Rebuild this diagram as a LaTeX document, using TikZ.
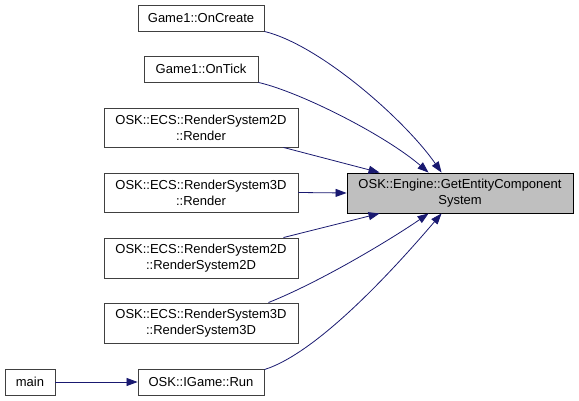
\documentclass[tikz,border=0pt]{standalone}
\usepackage{fontspec}
\setmainfont{Liberation Sans}
\usetikzlibrary{arrows.meta,calc}
\definecolor{edgeblue}{RGB}{25,25,112}
\definecolor{boxline}{RGB}{64,64,64}
\definecolor{hilite}{RGB}{191,191,191}
\begin{document}
\begin{tikzpicture}[x=1pt,y=-1pt,
    fn/.style={draw=boxline, line width=0.9pt, fill=white, inner sep=0pt, align=center,
        font=\fontsize{13}{16}\selectfont},
    call/.style={draw=edgeblue, line width=0.8pt, -{Triangle[length=11pt,width=8pt]}}]
    \useasboundingbox (0,0) rectangle (579,401);
    % Target
    \node[fn, draw=black, fill=hilite, minimum width=226pt, minimum height=40pt] (target) at (460,193)
        {OSK::Engine::GetEntityComponent\\System};
    % Callers
    \node[fn, minimum width=126pt, minimum height=26pt] (create) at (201,18) {Game1::OnCreate};
    \node[fn, minimum width=114pt, minimum height=26pt] (tick) at (201,69) {Game1::OnTick};
    \node[fn, minimum width=194pt, minimum height=39pt] (render2) at (201,127.5) {OSK::ECS::RenderSystem2D\\::Render};
    \node[fn, minimum width=194pt, minimum height=39pt] (render3) at (201,192.5) {OSK::ECS::RenderSystem3D\\::Render};
    \node[fn, minimum width=194pt, minimum height=40pt] (ctor2) at (201,258) {OSK::ECS::RenderSystem2D\\::RenderSystem2D};
    \node[fn, minimum width=194pt, minimum height=40pt] (ctor3) at (201,323) {OSK::ECS::RenderSystem3D\\::RenderSystem3D};
    \node[fn, minimum width=126pt, minimum height=26pt] (run) at (201,382) {OSK::IGame::Run};
    \node[fn, minimum width=50pt, minimum height=26pt] (main) at (30,382) {main};
    % Upper arrows
    \draw[call] (create.south east) .. controls (320,45) and (405,120) .. ($(target.north west)+(95,0)$);
    \draw[call] (tick.south east) .. controls (300,92) and (385,135) .. ($(target.north west)+(82,0)$);
    \draw[call] ($(render2.south east)+(-15,0)$) -- ($(target.north west)+(33,0)$);
    \draw[call] (render3.east) -- (target.west);
    % Lower arrows
    \draw[call] ($(ctor2.north east)+(-15,0)$) -- ($(target.south west)+(33,0)$);
    \draw[call] ($(ctor3.north east)+(-30,0)$) .. controls (320,282) and (390,240) .. ($(target.south west)+(82,0)$);
    \draw[call] ($(run.north east)+(0,1)$) .. controls (320,352) and (400,262) .. ($(target.south west)+(95,0)$);
    \draw[call] (main) -- (run);
\end{tikzpicture}
\end{document}
